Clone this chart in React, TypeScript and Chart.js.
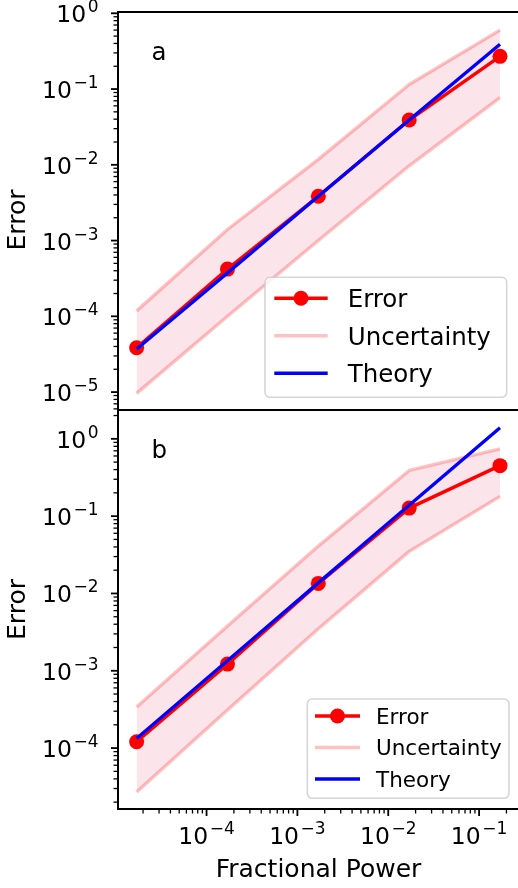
import { useEffect, useRef } from 'react';
import { Chart, registerables } from 'chart.js';

Chart.register(...registerables);

const FONT = '"DejaVu Sans", sans-serif';

// ---- data ----
const fracPower = [1.7e-5, 1.7e-4, 1.7e-3, 1.7e-2, 1.7e-1];

const errorA = [3.85e-5, 4.2e-4, 3.85e-3, 3.9e-2, 0.27];
const upperA = [1.18e-4, 1.4e-3, 1.18e-2, 0.115, 0.6];
const lowerA = [9.6e-6, 1.0e-4, 1.0e-3, 9.7e-3, 0.077];
const theoryA = [3.7e-5, 3.75e-4, 3.85e-3, 3.9e-2, 0.39];

const errorB = [1.21e-4, 1.22e-3, 1.35e-2, 0.127, 0.45];
const upperB = [3.4e-4, 3.8e-3, 4.1e-2, 0.39, 0.74];
const lowerB = [2.7e-5, 3.1e-4, 3.5e-3, 3.5e-2, 0.18];
const theoryB = [1.33e-4, 1.35e-3, 1.37e-2, 0.138, 1.39];

const seriesNames = ['Error', 'Uncertainty', 'Theory'];
const panelLetters = ['a', 'b'];
const xTitle = 'Fractional Power';
const yTitle = 'Error';

const xRange = [1.06e-5, 0.275];
const yRangeA = [5.8e-6, 1.04];
const yRangeB = [1.63e-5, 2.36];

const UNC_LINE = 'rgba(255,0,0,0.24)';
const UNC_FILL = 'rgba(235,120,150,0.2)';

function pts(ys: number[]) {
  return fracPower.map((x, i) => ({ x, y: ys[i] }));
}

function buildDatasets(err: number[], up: number[], lo: number[], th: number[]) {
  return [
    {
      label: seriesNames[0], data: pts(err), borderColor: '#ff0000', backgroundColor: '#ff0000',
      borderWidth: 3.4, pointRadius: 7.5, pointHoverRadius: 7.5, pointBorderWidth: 0,
      pointBackgroundColor: '#ff0000', fill: false, order: 1, borderJoinStyle: 'round',
    },
    {
      label: seriesNames[1], data: pts(up), borderColor: UNC_LINE, backgroundColor: UNC_FILL,
      borderWidth: 3.4, pointRadius: 0, fill: '+1', order: 2, borderJoinStyle: 'round',
    },
    {
      label: seriesNames[1], data: pts(lo), borderColor: UNC_LINE, backgroundColor: UNC_FILL,
      borderWidth: 3.4, pointRadius: 0, fill: false, order: 2, borderJoinStyle: 'round',
    },
    {
      label: seriesNames[2], data: pts(th), borderColor: '#0000ff', backgroundColor: '#0000ff',
      borderWidth: 3.4, pointRadius: 0, fill: false, order: 0, borderJoinStyle: 'round',
    },
  ];
}

function logTicks(min: number, max: number) {
  const out: { v: number; major: boolean; e: number }[] = [];
  const e0 = Math.floor(Math.log10(min));
  const e1 = Math.ceil(Math.log10(max));
  for (let e = e0; e <= e1; e++) {
    for (let m = 1; m <= 9; m++) {
      const v = m * Math.pow(10, e);
      if (v >= min * 0.9999 && v <= max * 1.0001) out.push({ v, major: m === 1, e });
    }
  }
  return out;
}

function supText(e: number) {
  return e < 0 ? '\u2212' + Math.abs(e) : String(e);
}

function drawPow(ctx: CanvasRenderingContext2D, e: number, x: number, baseY: number, align: 'right' | 'center') {
  ctx.textAlign = 'left';
  ctx.textBaseline = 'alphabetic';
  ctx.font = `23.5px ${FONT}`;
  const wb = ctx.measureText('10').width;
  ctx.font = `17px ${FONT}`;
  const sup = supText(e);
  const ws = ctx.measureText(sup).width;
  const gap = 1.5;
  const total = wb + gap + ws;
  const sx = align === 'right' ? x - total : x - total / 2;
  ctx.font = `23.5px ${FONT}`;
  ctx.fillText('10', sx, baseY);
  ctx.font = `17px ${FONT}`;
  ctx.fillText(sup, sx + wb + gap, baseY - 10);
}

const mplPlugin = {
  id: 'mpl',
  afterDraw(chart: any, _args: any, opts: any) {
    const ctx: CanvasRenderingContext2D = chart.ctx;
    const ca = chart.chartArea;
    const xs = chart.scales.x;
    const ys = chart.scales.y;
    ctx.save();
    ctx.fillStyle = '#000';
    ctx.strokeStyle = '#000';

    // y ticks
    for (const t of logTicks(ys.min, ys.max)) {
      const py = ys.getPixelForValue(t.v);
      ctx.lineWidth = t.major ? 1.8 : 1.3;
      const len = t.major ? 7 : 4.5;
      ctx.beginPath();
      ctx.moveTo(ca.left - len, py);
      ctx.lineTo(ca.left, py);
      ctx.stroke();
      if (t.major) drawPow(ctx, t.e, ca.left - 19.5, py + 9, 'right');
    }

    // x ticks
    if (opts.showX) {
      for (const t of logTicks(xs.min, xs.max)) {
        const px = xs.getPixelForValue(t.v);
        ctx.lineWidth = t.major ? 1.8 : 1.3;
        const len = t.major ? 7 : 4.5;
        ctx.beginPath();
        ctx.moveTo(px, ca.bottom);
        ctx.lineTo(px, ca.bottom + len);
        ctx.stroke();
        if (t.major) drawPow(ctx, t.e, px, ca.bottom + 34.5, 'center');
      }
      ctx.font = `25px ${FONT}`;
      ctx.textAlign = 'center';
      ctx.textBaseline = 'alphabetic';
      ctx.fillText(xTitle, (ca.left + ca.right) / 2, ca.bottom + 68);
    }

    // frame
    ctx.lineWidth = 2;
    ctx.strokeRect(ca.left, ca.top, ca.right - ca.left, ca.bottom - ca.top);

    // y title
    ctx.save();
    ctx.translate(25, (ca.top + ca.bottom) / 2 + (opts.ylabelShift || 0));
    ctx.rotate(-Math.PI / 2);
    ctx.font = `25px ${FONT}`;
    ctx.textAlign = 'center';
    ctx.textBaseline = 'alphabetic';
    ctx.fillText(yTitle, 0, 0);
    ctx.restore();

    // panel letter
    ctx.font = `24.5px ${FONT}`;
    ctx.textAlign = 'left';
    ctx.textBaseline = 'alphabetic';
    ctx.fillText(opts.letter, ca.left + 33.5, ca.top + 48);

    // legend
    const L = opts.legend;
    const bx1 = ca.right - L.padRight;
    const by1 = ca.bottom - L.padBottom;
    const bx0 = bx1 - L.width;
    const by0 = by1 - L.height;
    ctx.beginPath();
    ctx.roundRect(bx0, by0, L.width, L.height, 5);
    ctx.fillStyle = 'rgba(255,255,255,0.8)';
    ctx.fill();
    ctx.strokeStyle = 'rgba(204,204,204,0.8)';
    ctx.lineWidth = 1.6;
    ctx.stroke();

    const seen = new Set<string>();
    const items: any[] = [];
    for (const ds of chart.data.datasets) {
      if (seen.has(ds.label)) continue;
      seen.add(ds.label);
      items.push(ds);
    }
    items.forEach((ds, i) => {
      const ry = by0 + L.firstRow + i * L.spacing;
      const hx0 = bx0 + L.handleX;
      ctx.strokeStyle = ds.borderColor;
      ctx.lineWidth = ds.borderWidth;
      ctx.beginPath();
      ctx.moveTo(hx0, ry);
      ctx.lineTo(hx0 + L.handleLen, ry);
      ctx.stroke();
      if (ds.pointRadius > 0) {
        ctx.fillStyle = ds.pointBackgroundColor;
        ctx.beginPath();
        ctx.arc(hx0 + L.handleLen / 2, ry, L.markerR, 0, Math.PI * 2);
        ctx.fill();
      }
      ctx.fillStyle = '#000';
      ctx.font = `${L.font}px ${FONT}`;
      ctx.textAlign = 'left';
      ctx.textBaseline = 'alphabetic';
      ctx.fillText(ds.label, bx0 + L.textX, ry + L.font * 0.36);
    });

    ctx.restore();
  },
};

function makeConfig(datasets: any[], yRange: number[], padding: any, pluginOpts: any): any {
  return {
    type: 'line',
    data: { datasets },
    options: {
      animation: false,
      responsive: false,
      devicePixelRatio: 1,
      events: [],
      layout: { padding },
      scales: {
        x: { type: 'logarithmic', min: xRange[0], max: xRange[1], display: false },
        y: { type: 'logarithmic', min: yRange[0], max: yRange[1], display: false },
      },
      plugins: {
        legend: { display: false },
        tooltip: { enabled: false },
        filler: { drawTime: 'beforeDatasetsDraw' },
        mpl: pluginOpts,
      },
    },
    plugins: [mplPlugin],
  };
}

export default function App() {
  const topRef = useRef<HTMLCanvasElement | null>(null);
  const botRef = useRef<HTMLCanvasElement | null>(null);

  useEffect(() => {
    const c1 = new Chart(
      topRef.current as HTMLCanvasElement,
      makeConfig(
        buildDatasets(errorA, upperA, lowerA, theoryA),
        yRangeA,
        { left: 118, top: 12, right: 21, bottom: 10 },
        {
          letter: panelLetters[0], showX: false, ylabelShift: 9,
          legend: { font: 24.5, width: 241.7, height: 120, padRight: 12.3, padBottom: 12.7, handleX: 9.3, handleLen: 53.4, textX: 82.7, firstRow: 21, spacing: 37.5, markerR: 7.5 },
        }
      )
    );
    const c2 = new Chart(
      botRef.current as HTMLCanvasElement,
      makeConfig(
        buildDatasets(errorB, upperB, lowerB, theoryB),
        yRangeB,
        { left: 118, top: 10, right: 21, bottom: 79 },
        {
          letter: panelLetters[1], showX: true, ylabelShift: 0,
          legend: { font: 21.5, width: 201.7, height: 99.3, padRight: 10, padBottom: 10.7, handleX: 7.7, handleLen: 45, textX: 68.7, firstRow: 17, spacing: 31.5, markerR: 7.5 },
        }
      )
    );
    return () => {
      c1.destroy();
      c2.destroy();
    };
  }, []);

  return (
    <div style={{ position: 'fixed', left: 0, top: 0, width: 518, height: 888, overflow: 'hidden', background: '#fff' }}>
      <canvas ref={topRef} width={540} height={420} style={{ position: 'absolute', left: 0, top: 0 }} />
      <canvas ref={botRef} width={540} height={488} style={{ position: 'absolute', left: 0, top: 400 }} />
    </div>
  );
}
